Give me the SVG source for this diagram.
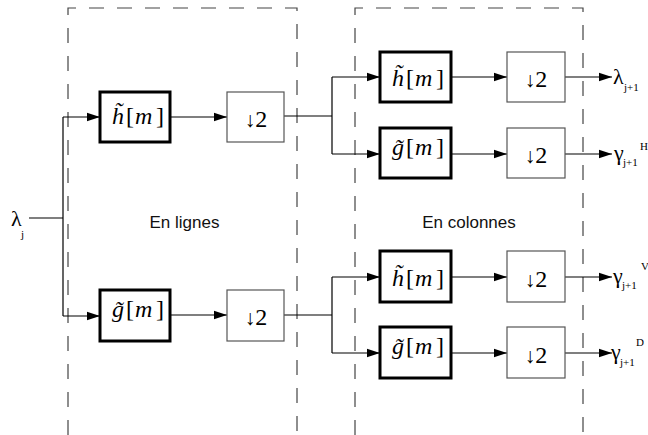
<svg xmlns="http://www.w3.org/2000/svg" width="648" height="435" viewBox="0 0 648 435">
<style>
.frame{fill:none;stroke:#444;stroke-width:1.2;stroke-dasharray:15 13}
.filt{fill:#fff;stroke:#000;stroke-width:3}
.ds{fill:#fff;stroke:#555;stroke-width:1.2}
.wire{fill:none;stroke:#000;stroke-width:1.2}
.arr{fill:none;stroke:#000;stroke-width:1.2;marker-end:url(#ah)}
text.m{font-family:'Liberation Serif','Times New Roman',serif;font-size:24px;fill:#000}
.it{font-style:italic}
text.d2{font-family:'Liberation Serif','Times New Roman',serif;font-size:24px;fill:#000;text-anchor:middle}
.ar{font-size:21px}
text.sym{font-family:'Liberation Serif','Times New Roman',serif;font-size:22px;fill:#000}
text.sub{font-family:'Liberation Serif','Times New Roman',serif;font-size:11px;fill:#000}
text.lab{font-family:'Liberation Sans',Arial,sans-serif;font-size:17px;fill:#111;text-anchor:middle}
</style>
<defs>
<marker id="ah" markerUnits="userSpaceOnUse" markerWidth="14" markerHeight="10" refX="13" refY="5" orient="auto">
<path d="M0,0.8 L13,5 L0,9.2 Z" fill="#000"/>
</marker>
</defs>
<rect width="648" height="435" fill="#fff"/>
<g id="frames">
<path class="frame" d="M68,435 V8 H297 V435"/>
<path class="frame" d="M355,435 V8 H583 V435"/>
</g>
<g id="connectors">
<path class="wire" d="M29,218 H63 M63,117 V316"/>
<path class="arr" d="M63,117 H100"/>
<path class="arr" d="M63,316 H100"/>
<path class="arr" d="M170,117 H227"/>
<path class="arr" d="M170,315 H227"/>
<path class="wire" d="M284,116 H332 M332,77 V154"/>
<path class="arr" d="M332,77 H380"/>
<path class="arr" d="M332,154 H380"/>
<path class="wire" d="M284,315 H332 M332,277 V353"/>
<path class="arr" d="M332,277 H380"/>
<path class="arr" d="M332,353 H380"/>
<path class="arr" d="M451,77 H507"/>
<path class="arr" d="M451,154 H507"/>
<path class="arr" d="M451,277 H507"/>
<path class="arr" d="M451,353 H507"/>
<path class="arr" d="M565,77 H612"/>
<path class="arr" d="M565,154 H612"/>
<path class="arr" d="M565,277 H612"/>
<path class="arr" d="M565,353 H612"/>
</g>
<g id="h1">
<rect class="filt" x="100" y="92" width="70" height="50"/>
<text class="m" y="124"><tspan class="it" x="112">h̃</tspan><tspan x="126">[</tspan><tspan class="it" x="135">m</tspan><tspan x="156">]</tspan></text>
</g>
<g id="d1">
<rect class="ds" x="227" y="92" width="57" height="50"/>
<text class="d2" x="256" y="127"><tspan class="ar">↓</tspan>2</text>
</g>
<g id="g1">
<rect class="filt" x="100" y="290" width="70" height="51"/>
<text class="m" y="317"><tspan class="it" x="112">g̃</tspan><tspan x="126">[</tspan><tspan class="it" x="135">m</tspan><tspan x="156">]</tspan></text>
</g>
<g id="d2">
<rect class="ds" x="227" y="290" width="57" height="51"/>
<text class="d2" x="256" y="325"><tspan class="ar">↓</tspan>2</text>
</g>
<g id="h2">
<rect class="filt" x="380" y="52" width="71" height="50"/>
<text class="m" y="86"><tspan class="it" x="392">h̃</tspan><tspan x="406">[</tspan><tspan class="it" x="415">m</tspan><tspan x="436">]</tspan></text>
</g>
<g id="d3">
<rect class="ds" x="507" y="52" width="58" height="50"/>
<text class="d2" x="536" y="87"><tspan class="ar">↓</tspan>2</text>
</g>
<g id="g2">
<rect class="filt" x="380" y="128" width="71" height="50"/>
<text class="m" y="155"><tspan class="it" x="392">g̃</tspan><tspan x="406">[</tspan><tspan class="it" x="415">m</tspan><tspan x="436">]</tspan></text>
</g>
<g id="d4">
<rect class="ds" x="507" y="128" width="58" height="50"/>
<text class="d2" x="536" y="163"><tspan class="ar">↓</tspan>2</text>
</g>
<g id="h3">
<rect class="filt" x="380" y="251" width="71" height="51"/>
<text class="m" y="286"><tspan class="it" x="392">h̃</tspan><tspan x="406">[</tspan><tspan class="it" x="415">m</tspan><tspan x="436">]</tspan></text>
</g>
<g id="d5">
<rect class="ds" x="507" y="251" width="58" height="51"/>
<text class="d2" x="536" y="287"><tspan class="ar">↓</tspan>2</text>
</g>
<g id="g3">
<rect class="filt" x="380" y="327" width="71" height="51"/>
<text class="m" y="354"><tspan class="it" x="392">g̃</tspan><tspan x="406">[</tspan><tspan class="it" x="415">m</tspan><tspan x="436">]</tspan></text>
</g>
<g id="d6">
<rect class="ds" x="507" y="327" width="58" height="51"/>
<text class="d2" x="536" y="363"><tspan class="ar">↓</tspan>2</text>
</g>
<g id="in">
<text class="sym" x="11" y="226">λ</text><text class="sub" x="21" y="238">j</text>
</g>
<g id="out1">
<text class="sym" x="613" y="84">λ</text><text class="sub" x="624" y="91">j+1</text>
</g>
<g id="out2">
<text class="sym" x="614" y="160">γ</text><text class="sub" x="623" y="166">j+1</text><text class="sub" x="640" y="150">H</text>
</g>
<g id="out3">
<text class="sym" x="613" y="283">γ</text><text class="sub" x="622" y="289">j+1</text><text class="sub" x="641" y="270">V</text>
</g>
<g id="out4">
<text class="sym" x="611" y="359">γ</text><text class="sub" x="620" y="366">j+1</text><text class="sub" x="636" y="346">D</text>
</g>
<g id="labels">
<text class="lab" x="184.5" y="228">En lignes</text>
<text class="lab" x="469" y="228">En colonnes</text>
</g>
</svg>
